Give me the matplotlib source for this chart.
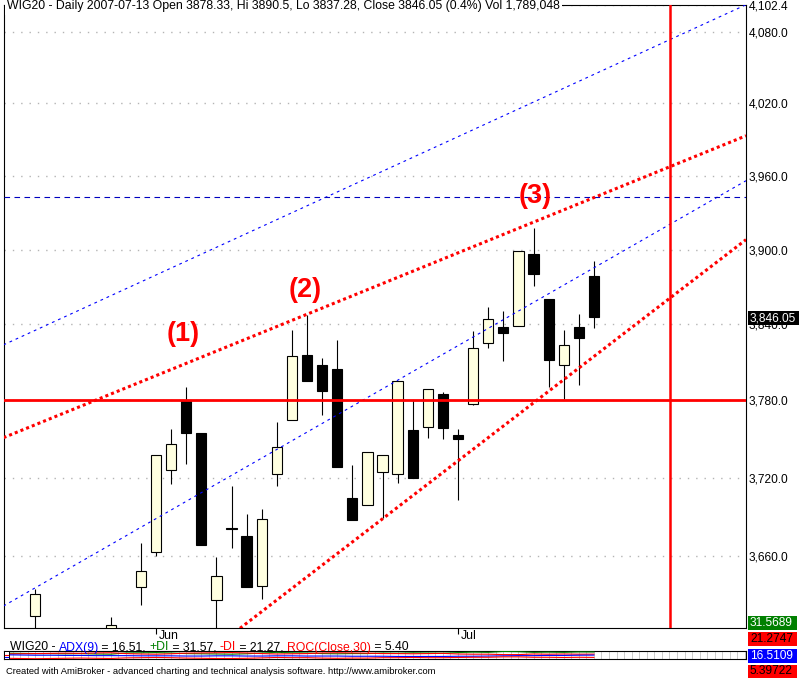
import matplotlib
matplotlib.use("Agg")
import matplotlib.pyplot as plt
from matplotlib.patches import Rectangle
from matplotlib.ticker import FixedLocator, NullLocator, FuncFormatter, NullFormatter
from matplotlib.transforms import ScaledTranslation
from matplotlib.font_manager import FontProperties
import numpy as np

W, H = 807, 678
nan = np.nan

# WIG20 daily bars, index 0 = 2007-05-22 ... 37 = 2007-07-13 (nan = off the visible range)
opens  = [3614.8, nan, nan, nan, nan, 3600.0, nan, 3636.4, 3663.6, 3726.3,
          3780.7, 3754.4, 3627.3, 3681.1, 3675.2, 3637.9, 3723.2, 3765.1, 3816.1, 3808.2,
          3805.1, 3704.8, 3699.4, 3724.5, 3723.2, 3756.8, 3759.3, 3785.4, 3752.9, 3777.6,
          3825.6, 3837.8, 3839.1, 3896.2, 3860.1, 3807.7, 3837.8, 3878.33]
highs  = [3635.3, nan, nan, nan, nan, 3614.3, nan, 3670.1, 3737.9, 3757.5,
          3790.6, 3754.4, 3659.5, 3713.4, 3692.0, 3695.8, 3763.2, 3835.4, 3847.3, 3813.0,
          3827.4, 3730.2, 3740.2, 3737.9, 3795.6, 3780.7, 3788.6, 3786.7, 3758.1, 3834.6,
          3853.7, 3850.5, 3899.2, 3917.8, 3860.1, 3835.4, 3848.1, 3890.5]
lows   = [3598.0, nan, nan, nan, nan, 3590.0, nan, 3623.0, 3660.0, 3715.2,
          3730.4, 3668.6, 3600.0, 3666.3, 3636.8, 3628.1, 3713.7, 3765.1, 3795.3, 3768.4,
          3728.3, 3687.4, 3699.4, 3688.9, 3716.0, 3719.8, 3750.8, 3749.8, 3703.2, 3776.6,
          3821.3, 3811.1, 3839.1, 3870.7, 3790.6, 3780.9, 3792.5, 3837.28]
closes = [3631.8, nan, nan, nan, nan, 3608.6, nan, 3648.6, 3737.9, 3746.4,
          3754.7, 3668.6, 3645.4, 3681.0, 3636.8, 3688.7, 3743.8, 3815.3, 3795.3, 3787.5,
          3728.3, 3687.4, 3740.2, 3737.9, 3795.6, 3719.8, 3788.6, 3758.5, 3750.0, 3821.6,
          3844.1, 3833.2, 3899.2, 3880.3, 3811.8, 3824.0, 3829.6, 3846.05]

month_ticks = [8, 28]
month_labels = ["Jun", "Jul"]
price_ticks = [3660, 3720, 3780, 3840, 3900, 3960, 4020, 4080]
y_top = 4102.4

# drawn studies: (bar, price) end points
upper_red = ([-2.1, 47.07], [3751.0, 3993.0])
lower_red = ([13.56, 47.07], [3605.8, 3908.0])
upper_blue = ([-2.1, 47.07], [3823.8, 4102.8])
mid_blue = ([-2.1, 47.07], [3622.5, 3956.0])
hline_blue = 3942.5
hline_red = 3780.0
vline_red = 42.03
marks = [("(1)", 9.77, 3832.2), ("(2)", 17.85, 3867.3), ("(3)", 33.09, 3943.3)]

# indicator pane, bars -2 .. 37
pdi = [26, 25, 24, 24, 23, 24, 22, 21, 27, 28, 29, 27, 24, 23, 22, 21, 23, 27, 30, 28,
       27, 24, 23, 24, 24, 27, 26, 28, 27, 26, 29, 31, 30, 34, 33, 30, 31, 30, 32, 31.57]
mdi = [22, 23, 24, 25, 26, 25, 27, 28, 24, 22, 21, 23, 26, 27, 28, 29, 27, 24, 22, 23,
       24, 27, 28, 27, 26, 24, 24, 23, 24, 25, 22, 21, 21, 19, 19, 22, 21, 22, 21, 21.27]
adx = [18, 17, 16, 16, 15, 15, 14, 14, 14, 13, 13, 13, 12, 12, 13, 13, 12, 12, 13, 13,
       12, 12, 12, 11, 11, 11, 10, 10, 10, 10, 11, 11, 12, 13, 14, 14, 15, 15, 16, 16.51]
roc = [1, 0, -1, 0, 1, 2, 1, 0, 3, 4, 5, 4, 2, 1, 0, 0, 1, 3, 5, 4,
       4, 2, 1, 2, 2, 4, 4, 5, 4, 4, 5, 6, 6, 8, 8, 6, 6, 5, 6, 5.40]

FONT = "Liberation Sans"
plt.rcParams['font.family'] = FONT

fig = plt.figure(figsize=(W / 100, H / 100), dpi=100)
fig.patch.set_facecolor("white")


def fx(x):
    return x / W


def fy(y):
    return 1 - y / H


ax = fig.add_axes([fx(3.5), fy(628.3), (746 - 3.5) / W, (628.3 - 5) / H])
ax.set_yscale("log")
ax.set_xlim(-2.1, 47.07)
ax.set_ylim(3605.8, 4102.6)
for s in ax.spines.values():
    s.set_linewidth(0.8)
    s.set_color("black")

ax.yaxis.set_major_locator(FixedLocator(price_ticks + [y_top]))
ax.yaxis.set_minor_locator(NullLocator())
ax.yaxis.set_minor_formatter(NullFormatter())
ax.yaxis.set_major_formatter(FuncFormatter(lambda v, p: f"{v:,.1f}"))
ax.tick_params(axis="y", which="both", left=False, right=True, labelleft=False,
               labelright=True, length=0, pad=2, labelsize=8.6)
ax.grid(axis="y", color="#b4b4b4", linestyle=(0, (1, 5)), linewidth=1.0)

ax.set_xticks(month_ticks)
ax.set_xticklabels(month_labels, ha="left", fontsize=8.8)
ax.tick_params(axis="x", length=4.3, width=0.8, direction="out", pad=-3)
for lab in ax.get_xticklabels():
    lab.set_transform(lab.get_transform() + ScaledTranslation(3 / 100, 0, fig.dpi_scale_trans))

# candles
x = np.arange(len(opens))
for i in x:
    o, h, l, c = opens[i], highs[i], lows[i], closes[i]
    if np.isnan(o):
        continue
    ax.vlines(i, l, h, color="black", lw=0.8, zorder=2)
    up = c >= o
    ax.bar(i, abs(c - o), bottom=min(o, c), width=0.68,
           color="#ffffe0" if up else "black", edgecolor="black", lw=0.8, zorder=3)

# studies
ax.plot(*upper_blue, color="#0000ff", lw=0.8, ls=(0, (2.5, 3.5)), zorder=4)
ax.plot(*mid_blue, color="#0000ff", lw=0.8, ls=(0, (2.5, 3.5)), zorder=4)
ax.axhline(hline_blue, color="#0000c0", lw=0.8, ls=(0, (5, 4)), zorder=4)
ax.plot(*upper_red, color="red", lw=2.2, ls=(0, (1, 1)), zorder=5)
ax.plot(*lower_red, color="red", lw=2.2, ls=(0, (1, 1)), zorder=5)
ax.axhline(hline_red, color="red", lw=2.0, zorder=5)
ax.axvline(vline_red, color="red", lw=1.8, zorder=5)

for txt, bx, by in marks:
    ax.text(bx, by, txt, color="red", fontsize=19.5, fontweight="bold",
            ha="center", va="center", zorder=6)

# title
fig.text(fx(7), fy(6.5), "WIG20 - Daily 2007-07-13 Open 3878.33, Hi 3890.5, Lo 3837.28, "
         "Close 3846.05 (0.4%) Vol 1,789,048", fontsize=8.8, va="center", ha="left",
         bbox=dict(facecolor="white", edgecolor="none", pad=1.5))


def value_box(y0, y1, txt, bg, fg, x0=748, x1=797):
    fig.add_artist(Rectangle((fx(x0), fy(y1)), (x1 - x0) / W, (y1 - y0) / H,
                             transform=fig.transFigure, facecolor=bg, edgecolor="none"))
    fig.text(fx(x0 + 2), fy((y0 + y1) / 2), txt, color=fg, fontsize=8.6,
             ha="left", va="center")


value_box(311, 325, "3,846.05", "black", "white", x1=799)

# indicator pane
ax2 = fig.add_axes([fx(3.5), fy(658.5), (746 - 3.5) / W, 8 / H])
xi = np.arange(-2, 38)
ax2.set_xlim(-2.1, 47.07)
ax2.set_ylim(0, 39)
for v in np.arange(-2, 47.5, 0.5):
    ax2.axvline(v, color="#cccccc", lw=0.7, zorder=1)
ax2.plot(xi, pdi, color="green", lw=0.8, zorder=3)
ax2.plot(xi, mdi, color="red", lw=0.8, zorder=3)
ax2.plot(xi, adx, color="blue", lw=0.8, zorder=3)
ax2.plot(xi, roc, color="red", lw=0.8, zorder=3)
ax2.set_xticks([])
ax2.set_yticks([])
for s in ax2.spines.values():
    s.set_linewidth(0.8)

fig.add_artist(Rectangle((fx(4), fy(659)), 5 / W, 8 / H, transform=fig.transFigure,
                         facecolor="white", edgecolor="black", lw=0.7))
fig.add_artist(plt.Line2D([fx(5), fx(8)], [fy(655), fy(655)], transform=fig.transFigure,
                          color="red", lw=0.8))
fig.add_artist(plt.Line2D([fx(5), fx(8)], [fy(657), fy(657)], transform=fig.transFigure,
                          color="blue", lw=0.8))

# multi-coloured legend line
parts = [("WIG20 - ", "black"), ("ADX(9)", "blue"), (" = 16.51, ", "black"),
         ("+DI", "green"), (" = 31.57, ", "black"), ("-DI", "red"),
         (" = 21.27, ", "black"), ("ROC(Close,30)", "red"), (" = 5.40", "black")]
fig.canvas.draw()
r = fig.canvas.get_renderer()
fp = FontProperties(family=FONT, size=8.8)
bar_w = r.get_text_width_height_descent("|", fp, ismath=False)[0]
px0 = 10
prefix = ""
for s, col in parts:
    off = r.get_text_width_height_descent(prefix + "|", fp, ismath=False)[0] - bar_w if prefix else 0
    fig.text(fx(px0 + off), fy(647.5), s, color=col, fontproperties=fp, ha="left", va="center")
    prefix += s

value_box(616, 630, "31.5689", "#008000", "white")
value_box(632, 645.5, "21.2747", "red", "black")
value_box(649, 662.5, "16.5109", "blue", "white")
value_box(665, 678, "5.39722", "red", "black")

fig.text(fx(6), fy(671), "Created with AmiBroker - advanced charting and technical analysis "
         "software. http://www.amibroker.com", fontsize=6.75, ha="left", va="center")

fig.savefig("out.png", dpi=100)
